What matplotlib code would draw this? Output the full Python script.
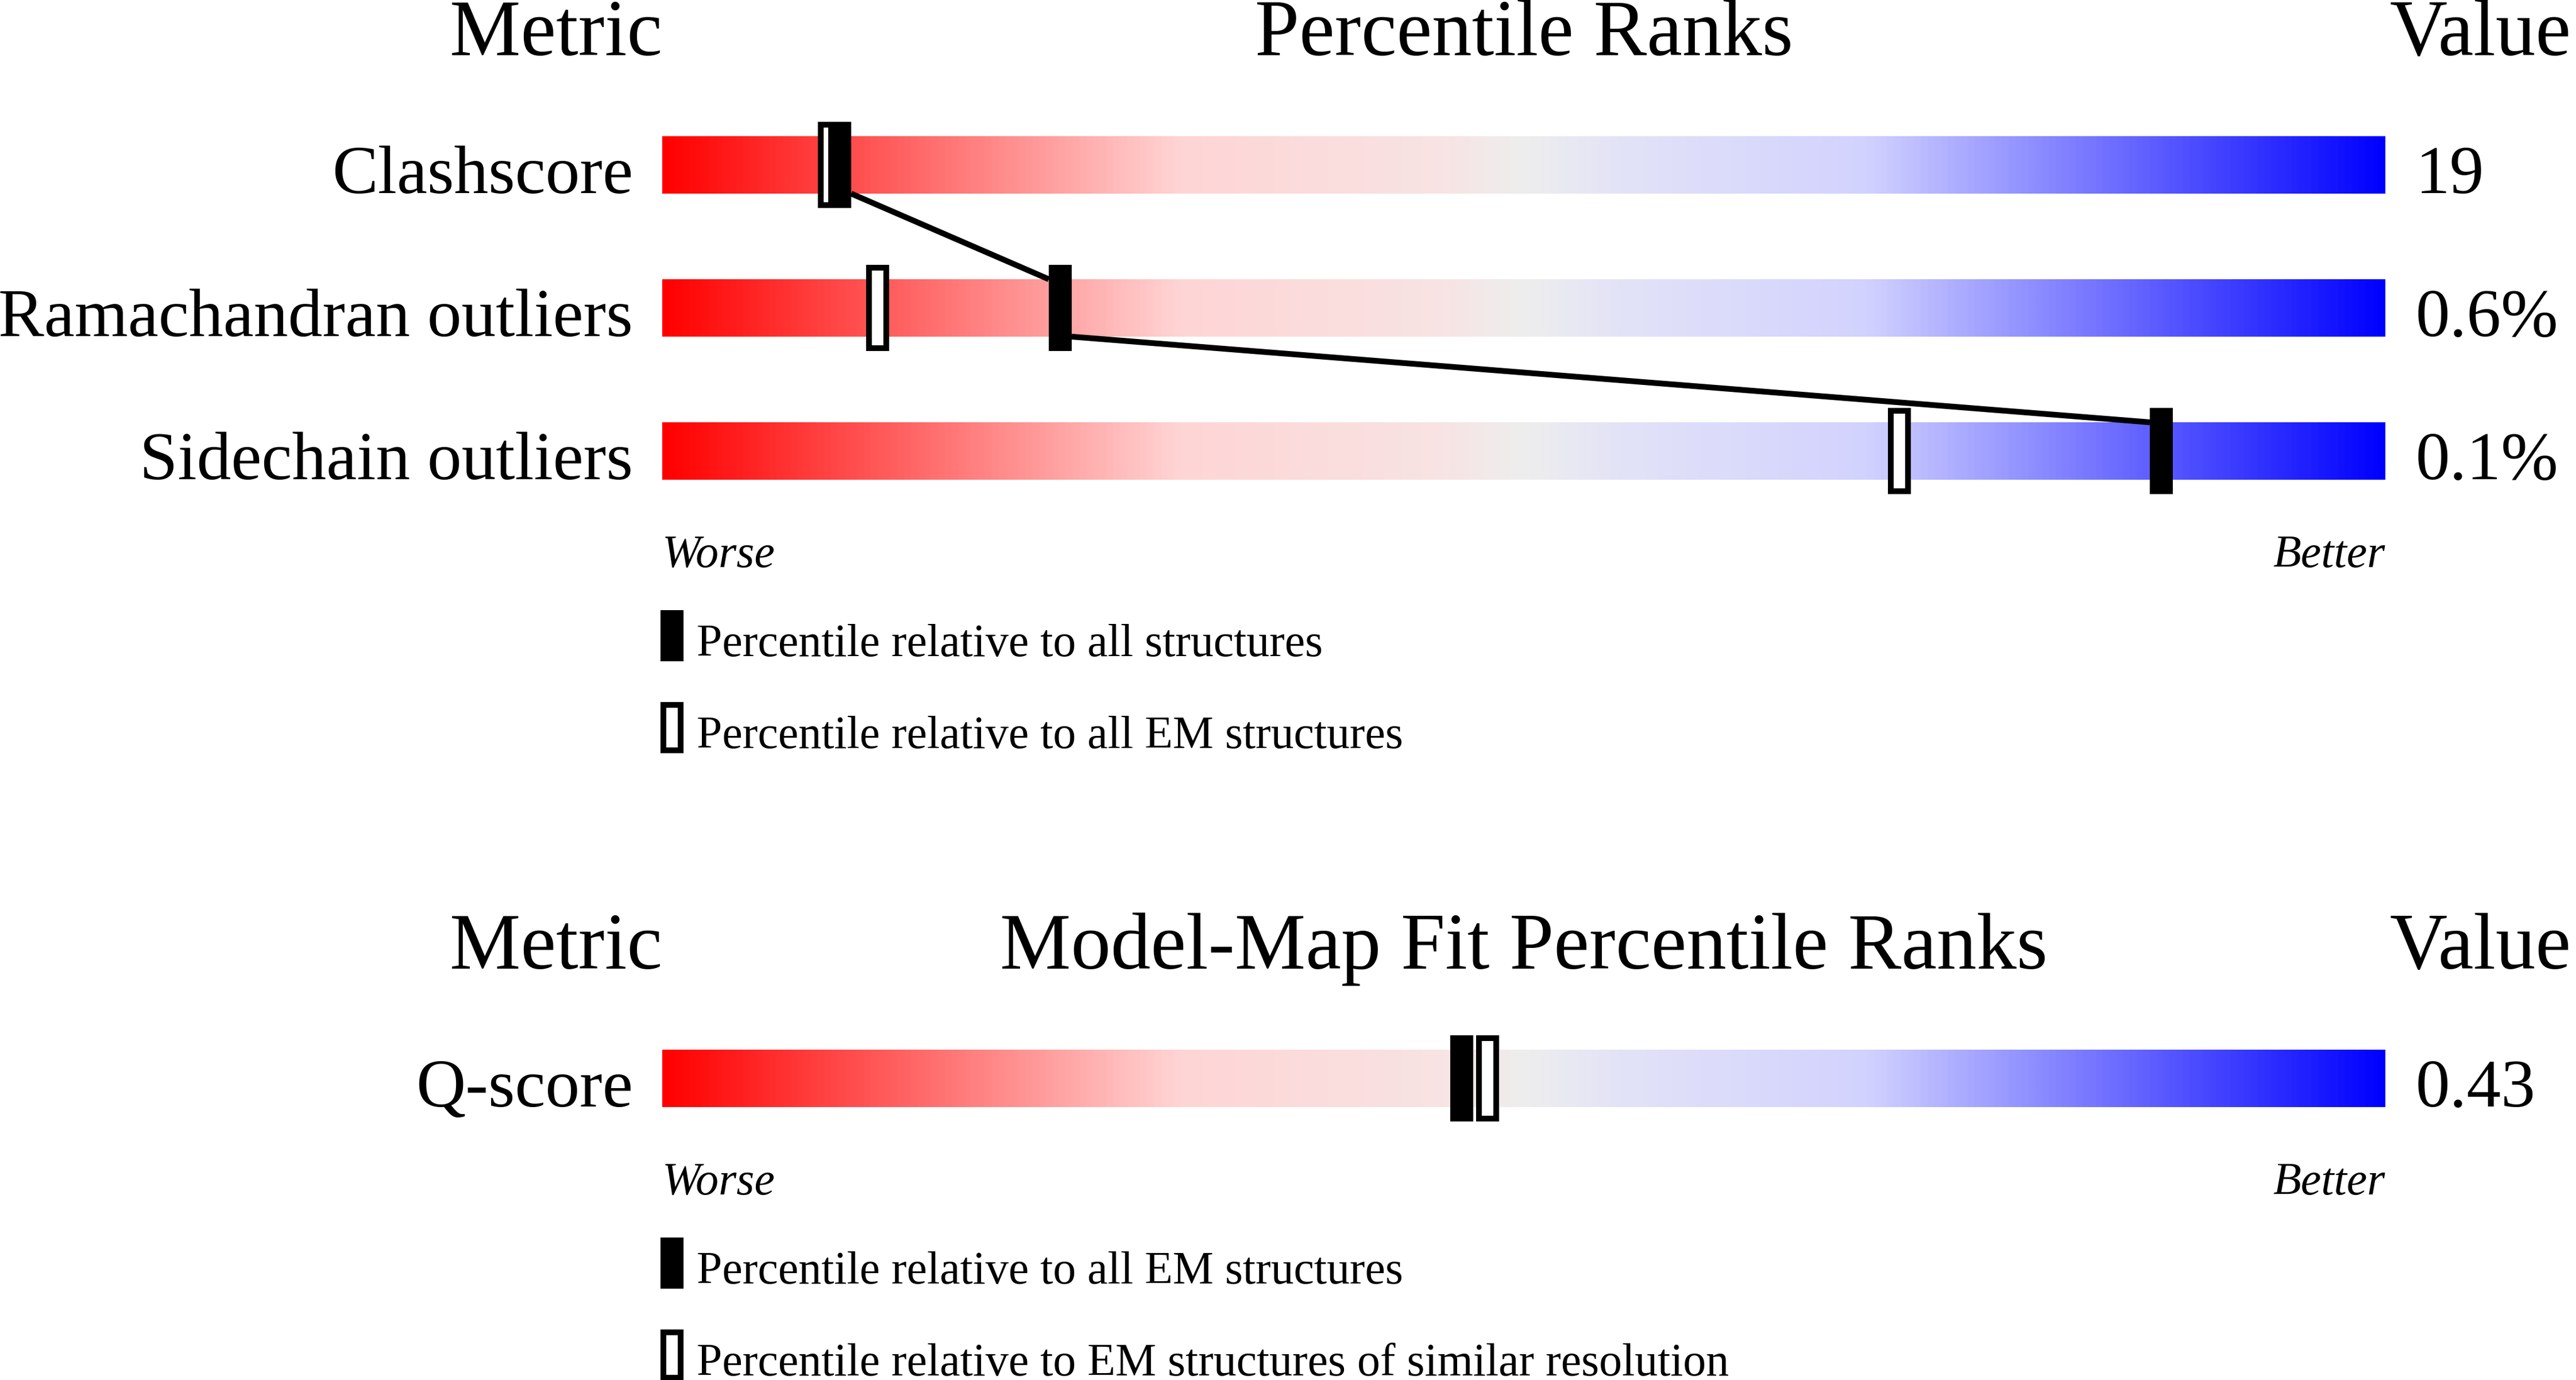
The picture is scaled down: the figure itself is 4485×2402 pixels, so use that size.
import numpy as np
import matplotlib
matplotlib.use("Agg")
import matplotlib.pyplot as plt
from matplotlib.colors import LinearSegmentedColormap
from matplotlib.patches import Rectangle

# data
metrics = ["Clashscore", "Ramachandran outliers", "Sidechain outliers"]
values = ["19", "0.6%", "0.1%"]
pct_all = [10.3, 23.1, 87.0]
pct_em = [9.7, 12.5, 71.8]
legend_top = ["Percentile relative to all structures",
              "Percentile relative to all EM structures"]

fit_metrics = ["Q-score"]
fit_values = ["0.43"]
fit_pct_em = [46.4]
fit_pct_res = [47.9]
legend_fit = ["Percentile relative to all EM structures",
              "Percentile relative to EM structures of similar resolution"]

# layout in pixels
W, H = 4485, 2402
DPI = 100
BAR_L, BAR_R = 1153, 4153
ROW = 249
BAR_H = 100
MARK_W = 40
MARK_H = 150
EDGE = 10
PX_PER_PCT = (BAR_R - BAR_L) / 100

plt.rcParams['font.family'] = ['Liberation Serif', 'DejaVu Serif']

cmap = LinearSegmentedColormap.from_list("wb", [
    (0.0, "#ff0000"), (0.30, "#ffd5d5"), (0.45, "#f8e3e3"), (0.5, "#eeeeee"),
    (0.56, "#e2e2f8"), (0.70, "#d2d2ff"), (1.0, "#0000ff")])
grad = np.linspace(0, 1, 1024).reshape(1, -1)

fig = plt.figure(figsize=(W / DPI, H / DPI), dpi=DPI)


def fx(px):
    return px / W


def fy(py):
    return 1 - py / H


def legend_glyph(x, y, filled):
    if filled:
        r = Rectangle((fx(x), fy(y + 89)), MARK_W / W, 89 / H, transform=fig.transFigure,
                      facecolor="black", edgecolor="none")
    else:
        r = Rectangle((fx(x + EDGE / 2), fy(y + 89 - EDGE / 2)), (MARK_W - EDGE) / W, (89 - EDGE) / H,
                      transform=fig.transFigure, facecolor="white", edgecolor="black",
                      linewidth=EDGE * 72 / DPI)
    fig.patches.append(r)


def draw_panel(top_px, names, vals, p_fill, p_open, title, leg_labels):
    n = len(names)
    ax = fig.add_axes([fx(BAR_L), fy(top_px + n * ROW), (BAR_R - BAR_L) / W, n * ROW / H])
    hb = BAR_H / ROW
    hm = MARK_H / ROW
    w = MARK_W / PX_PER_PCT
    ew = EDGE / PX_PER_PCT
    eh = EDGE / ROW

    for i in range(n):
        ax.imshow(grad, cmap=cmap, aspect="auto", extent=(0, 100, i + hb / 2, i - hb / 2),
                  interpolation="bilinear", zorder=1)
        ax.add_patch(Rectangle((p_open[i] - (w - ew) / 2, i - (hm - eh) / 2), w - ew, hm - eh,
                               facecolor="white", edgecolor="black",
                               linewidth=EDGE * 72 / DPI, zorder=3))
        ax.add_patch(Rectangle((p_fill[i] - w / 2, i - hm / 2), w, hm,
                               facecolor="black", edgecolor="none", zorder=5))
        base = top_px + (i + 0.5) * ROW + 49
        fig.text(fx(1102), fy(base), names[i], fontsize=86, ha="right", va="baseline")
        fig.text(fx(4205), fy(base), vals[i], fontsize=86, ha="left", va="baseline")

    # line joining the filled markers, bar edge to bar edge
    for i in range(n - 1):
        ax.plot([p_fill[i] + w / 2, p_fill[i + 1] - w / 2], [i + hb / 2, i + 1 - hb / 2],
                color="black", linewidth=10 * 72 / DPI, solid_capstyle="butt", zorder=4)

    ax.set_xlim(0, 100)
    ax.set_ylim(n - 0.5, -0.5)
    ax.axis("off")

    head = top_px - 66.5
    fig.text(fx(1153), fy(head), "Metric", fontsize=100, ha="right", va="baseline")
    fig.text(fx((BAR_L + BAR_R) / 2), fy(head), title, fontsize=100, ha="center", va="baseline")
    fig.text(fx(4160), fy(head), "Value", fontsize=100, ha="left", va="baseline")

    wb = top_px + n * ROW + 77.5
    fig.text(fx(BAR_L), fy(wb), "Worse", fontsize=57.5, style="italic", ha="left", va="baseline")
    fig.text(fx(BAR_R), fy(wb), "Better", fontsize=57.5, style="italic", ha="right", va="baseline")

    for k, lab in enumerate(leg_labels):
        top = wb + 75 + k * 160
        legend_glyph(1150, top, k == 0)
        fig.text(fx(1213), fy(top + 80), lab, fontsize=57.5, ha="left", va="baseline")


draw_panel(162.5, metrics, values, pct_all, pct_em, "Percentile Ranks", legend_top)
draw_panel(1752.5, fit_metrics, fit_values, fit_pct_em, fit_pct_res,
           "Model-Map Fit Percentile Ranks", legend_fit)

fig.savefig("out.png", dpi=DPI)
